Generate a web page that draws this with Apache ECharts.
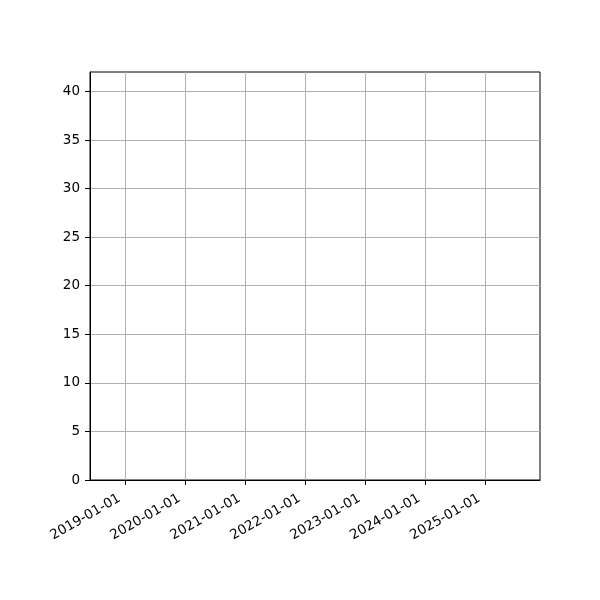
<!DOCTYPE html>
<html>
<head>
<meta charset="utf-8">
<script src="https://cdn.jsdelivr.net/npm/echarts@6/dist/echarts.min.js"></script>
<style>
  html, body { margin: 0; padding: 0; background: #fff; }
  #chart { width: 600px; height: 600px; }
</style>
</head>
<body>
<div id="chart"></div>
<script>
// the plotted series is empty in the reference, only the axes are drawn
const dates = []
const values = []

const xTicks = ['2019-01-01', '2020-01-01', '2021-01-01', '2022-01-01', '2023-01-01', '2024-01-01', '2025-01-01']
const yTicks = [0, 5, 10, 15, 20, 25, 30, 35, 40]
const xRange = ['2018-05-29', '2025-11-30']
const yRange = [0, 42]

const font = 'DejaVu Sans'
const toMs = d => +echarts.time.parse(d)
const xTickValues = xTicks.map(toMs)

const chart = echarts.init(document.getElementById('chart'))
chart.setOption({
  animation: false,
  grid: {
    left: 90,
    right: 60,
    top: 72,
    bottom: 120,
    show: true,
    borderColor: '#000',
    borderWidth: 1,
    backgroundColor: 'transparent'
  },
  xAxis: {
    // timestamps on a value axis so the yearly ticks can be pinned
    type: 'value',
    min: toMs(xRange[0]),
    max: toMs(xRange[1]),
    axisLine: { show: true, onZero: false, lineStyle: { color: '#000', width: 1 } },
    axisTick: { show: true, length: 5, lineStyle: { color: '#000' }, customValues: xTickValues },
    axisLabel: {
      customValues: xTickValues,
      rotate: 30,
      margin: 14,
      padding: [0, 7, 0, 0],
      color: '#000',
      fontFamily: font,
      fontSize: 13.5,
      formatter: v => echarts.time.format(v, '{yyyy}-{MM}-{dd}', false)
    },
    splitLine: { show: true, lineStyle: { color: '#b0b0b0', width: 1 } }
  },
  yAxis: {
    type: 'value',
    min: yRange[0],
    max: yRange[1],
    axisLine: { show: true, lineStyle: { color: '#000', width: 1 } },
    axisTick: { show: true, length: 5, lineStyle: { color: '#000' }, customValues: yTicks },
    axisLabel: { customValues: yTicks, margin: 10, color: '#000', fontFamily: font, fontSize: 13.5 },
    splitLine: { show: true, lineStyle: { color: '#b0b0b0', width: 1 } }
  },
  series: [{
    type: 'line',
    data: dates.map((d, i) => [toMs(d), values[i]]),
    showSymbol: false
  }]
})
</script>
</body>
</html>
